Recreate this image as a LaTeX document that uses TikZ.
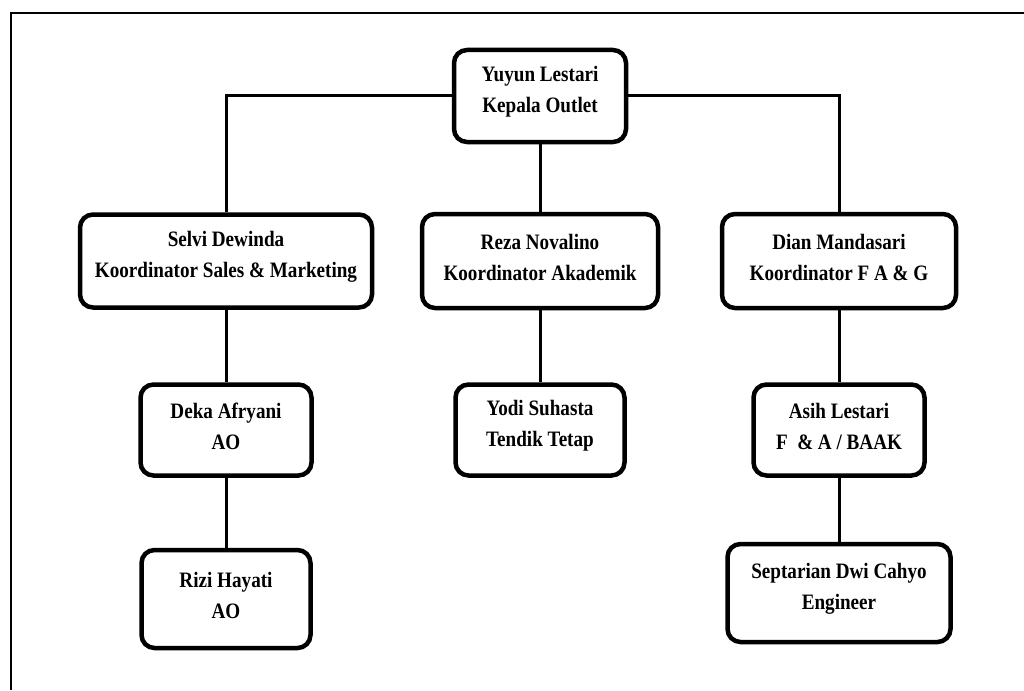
\documentclass[tikz,border=0pt]{standalone}
\usepackage{fontspec}
\setmainfont{Liberation Serif}
\newfontfamily\orgfont[FakeStretch=0.87]{Liberation Serif}
\begin{document}
\begin{tikzpicture}[x=1pt,y=-1pt,
  orgbox/.style 2 args={draw,line width=4.5pt,rounded corners=13pt,
    minimum width=#1,minimum height=#2,inner sep=0pt},
  orgtext/.style={align=center,inner sep=0pt,yshift=4pt,
    font=\orgfont\bfseries\fontsize{22}{31}\selectfont},
  link/.style={line width=3pt},
  frame/.style={line width=2.8pt}]
\useasboundingbox (0,0) rectangle (1024,690);

% outer frame (top and left edges)
\draw[frame] (11,690) -- (11,13) -- (1024,13);

% head
\node[orgbox={172pt}{92pt}] (ceo) at (540,96) {};
\node[orgtext] (ceo-t) at (ceo.center) {Yuyun Lestari\\Kepala Outlet};

% coordinators
\node[orgbox={292pt}{93pt}] (selvi) at (226,261) {};
\node[orgtext] (selvi-t) at (selvi.center) {Selvi Dewinda\\Koordinator Sales \& Marketing};
\node[orgbox={236pt}{94pt}] (reza) at (540,261) {};
\node[orgtext] (reza-t) at (reza.center) {Reza Novalino\\Koordinator Akademik};
\node[orgbox={234pt}{94pt}] (dian) at (839,261) {};
\node[orgtext] (dian-t) at (dian.center) {Dian Mandasari\\Koordinator F A \& G};

% staff
\node[orgbox={171pt}{91pt}] (deka) at (226,430) {};
\node[orgtext] (deka-t) at (deka.center) {Deka Afryani\\AO};
\node[orgbox={169pt}{91pt}] (yodi) at (540,430) {};
\node[orgtext] (yodi-t) at (yodi.center) {Yodi Suhasta\\Tendik Tetap};
\node[orgbox={171pt}{91pt}] (asih) at (839,430) {};
\node[orgtext] (asih-t) at (asih.center) {Asih Lestari\\F \ \& A / BAAK};
\node[orgbox={169pt}{98pt}] (rizi) at (226,599) {};
\node[orgtext] (rizi-t) at (rizi.center) {Rizi Hayati\\AO};
\node[orgbox={223pt}{98pt}] (sept) at (839,593) {};
\node[orgtext] (sept-t) at (sept.center) {Septarian Dwi Cahyo\\Engineer};

% reporting lines
\draw[link] (ceo.west) -| (selvi.north);
\draw[link] (ceo.east) -| (dian.north);
\draw[link] (ceo.south) -- (reza.north);
\draw[link] (selvi.south) -- (deka.north);
\draw[link] (deka.south) -- (rizi.north);
\draw[link] (reza.south) -- (yodi.north);
\draw[link] (dian.south) -- (asih.north);
\draw[link] (asih.south) -- (sept.north);
\end{tikzpicture}
\end{document}
